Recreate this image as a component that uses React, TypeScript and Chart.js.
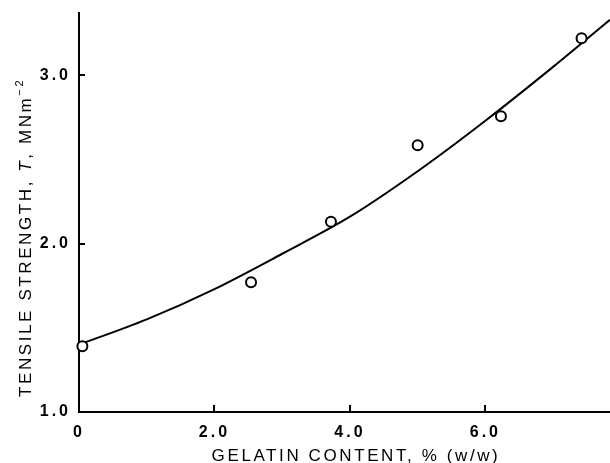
import React, { useEffect, useRef } from 'react';
import { Chart, registerables } from 'chart.js';

Chart.register(...registerables);

// measured data points (open circles)
const gelatinContent = [0.05, 2.54, 3.72, 5.0, 6.23, 7.42];
const tensileStrength = [1.39, 1.77, 2.13, 2.585, 2.757, 3.22];

// fitted curve
const fitGelatin = [0, 1, 2, 3, 4, 5, 6, 7, 7.84];
const fitStrength = [1.4, 1.55, 1.73, 1.94, 2.16, 2.43, 2.73, 3.05, 3.33];

const xTicks = [0, 2, 4, 6];
const yTicks = [1, 2, 3];
const xMin = 0;
const xMax = 7.84;
const yMin = 1;
const yMax = 3.37;

const xTitle = 'GELATIN CONTENT, % (w/w)';
const yTitleParts = [
  { text: 'TENSILE STRENGTH, ', style: 'normal' },
  { text: 'T', style: 'italic' },
  { text: ', MNm', style: 'normal' },
  { text: '−2', style: 'sup' },
];

const FAMILY = '"Liberation Sans", Arial, Helvetica, sans-serif';

const decorPlugin = {
  id: 'decor',
  beforeDraw(chart: any) {
    (chart.ctx as any).letterSpacing = '3px';
  },
  afterDraw(chart: any) {
    const ctx = chart.ctx as any;
    const area = chart.chartArea;
    const xs = chart.scales.x;
    const ys = chart.scales.y;
    ctx.save();
    ctx.strokeStyle = '#000';
    ctx.lineWidth = 2;
    // inward tick marks
    xTicks.filter((v) => v !== xMin).forEach((v) => {
      const px = Math.round(xs.getPixelForValue(v));
      ctx.beginPath();
      ctx.moveTo(px, area.bottom);
      ctx.lineTo(px, area.bottom - 7);
      ctx.stroke();
    });
    yTicks.filter((v) => v !== yMin).forEach((v) => {
      const py = Math.round(ys.getPixelForValue(v));
      ctx.beginPath();
      ctx.moveTo(area.left, py);
      ctx.lineTo(area.left + 6, py);
      ctx.stroke();
    });

    ctx.fillStyle = '#000';
    ctx.letterSpacing = '2.6px';
    // x title
    ctx.font = `17px ${FAMILY}`;
    ctx.textAlign = 'center';
    ctx.textBaseline = 'alphabetic';
    ctx.fillText(xTitle, 356, 461);

    // y title (rotated, mixed styles)
    ctx.save();
    ctx.translate(31, 397);
    ctx.rotate(-Math.PI / 2);
    ctx.textAlign = 'left';
    let off = 0;
    yTitleParts.forEach((p) => {
      let yOff = 0;
      if (p.style === 'italic') ctx.font = `italic 17px ${FAMILY}`;
      else if (p.style === 'sup') {
        ctx.font = `11px ${FAMILY}`;
        yOff = -8;
      } else ctx.font = `17px ${FAMILY}`;
      ctx.fillText(p.text, off, yOff);
      off += ctx.measureText(p.text).width;
    });
    ctx.restore();

    ctx.letterSpacing = '0px';
    ctx.restore();
  },
};

export default function App() {
  const ref = useRef<HTMLCanvasElement | null>(null);
  useEffect(() => {
    document.body.style.margin = '0';
    const canvas = ref.current!;
    const chart = new Chart(canvas, {
      type: 'scatter',
      data: {
        datasets: [
          {
            label: 'measured',
            data: gelatinContent.map((x, i) => ({ x, y: tensileStrength[i] })),
            pointRadius: 5,
            pointBorderWidth: 2,
            pointBorderColor: '#000',
            pointBackgroundColor: '#fff',
            showLine: false,
            clip: false as any,
          },
          {
            type: 'line' as any,
            label: 'fit',
            data: fitGelatin.map((x, i) => ({ x, y: fitStrength[i] })),
            borderColor: '#000',
            borderWidth: 2,
            pointRadius: 0,
            fill: false,
            tension: 0.4,
            cubicInterpolationMode: 'monotone',
          } as any,
        ],
      },
      options: {
        animation: false,
        responsive: false,
        events: [],
        layout: { autoPadding: false, padding: { top: 13, right: 0, left: 0, bottom: 0 } },
        plugins: { legend: { display: false }, tooltip: { enabled: false } },
        scales: {
          x: {
            type: 'linear',
            min: xMin,
            max: xMax,
            afterBuildTicks: (s: any) => {
              s.ticks = xTicks.map((v) => ({ value: v }));
            },
            afterFit: (s: any) => {
              s.height = 51;
              s.paddingLeft = 0;
              s.paddingRight = 0;
            },
            grid: { display: false, drawTicks: false },
            border: { display: true, color: '#000', width: 2 },
            ticks: {
              color: '#000',
              padding: 11,
              maxRotation: 0,
              font: { family: FAMILY, size: 16, weight: 'bold' },
              callback: (v: any) => (Number(v) === 0 ? '0' : Number(v).toFixed(1)),
            },
          },
          y: {
            type: 'linear',
            min: yMin,
            max: yMax,
            afterBuildTicks: (s: any) => {
              s.ticks = yTicks.map((v) => ({ value: v }));
            },
            afterFit: (s: any) => {
              s.width = 79;
              s.paddingTop = 0;
              s.paddingBottom = 0;
            },
            grid: { display: false, drawTicks: false },
            border: { display: true, color: '#000', width: 2 },
            ticks: {
              color: '#000',
              padding: 8,
              font: { family: FAMILY, size: 16, weight: 'bold' },
              callback: (v: any) => Number(v).toFixed(1),
            },
          },
        },
      },
      plugins: [decorPlugin],
    });
    return () => chart.destroy();
  }, []);
  return (
    <div style={{ position: 'fixed', left: 0, top: 0, width: 610, height: 463 }}>
      <canvas ref={ref} width={610} height={463} />
    </div>
  );
}
